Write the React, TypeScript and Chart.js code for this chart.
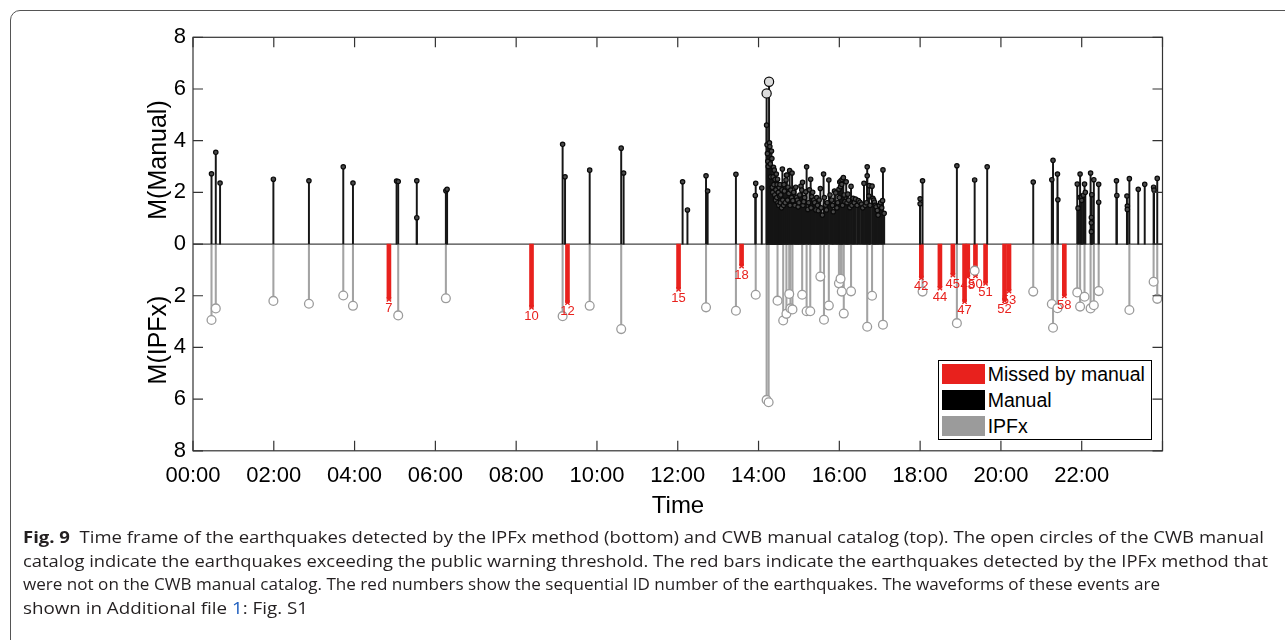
import React, { useEffect, useLayoutEffect, useRef } from 'react';
import { Chart, registerables } from 'chart.js';

Chart.register(...registerables);

// ---------- DATA ----------
const xTickLabels = ['00:00', '02:00', '04:00', '06:00', '08:00', '10:00', '12:00', '14:00', '16:00', '18:00', '20:00', '22:00'];
const yTickLabels = ['8', '6', '4', '2', '0', '2', '4', '6', '8'];

// [time (hours), magnitude] — CWB manual catalog (top)
const manualEvents: [number, number][] = [
  [0.458, 2.72], [0.564, 3.55], [0.67, 2.36], [1.99, 2.51], [2.87, 2.45], [3.72, 2.99], [3.96, 2.36],
  [5.04, 2.44], [5.08, 2.42], [5.54, 2.45], [5.54, 1.02], [6.26, 2.06], [6.29, 2.12],
  [9.15, 3.86], [9.21, 2.6], [9.82, 2.86], [10.6, 3.71], [10.66, 2.75], [12.12, 2.41], [12.24, 1.32],
  [12.7, 2.64], [12.74, 2.05], [13.44, 2.7], [13.92, 1.88], [13.93, 2.35], [14.08, 2.17],
  [14.2, 5.83], [14.26, 6.28], [14.2, 4.6], [14.21, 3.84], [14.22, 3.5], [14.23, 3.2], [14.24, 3.0],
  [14.27, 3.92], [14.28, 3.77], [14.29, 3.1], [14.3, 2.6], [14.32, 3.6], [14.33, 3.31], [14.34, 2.2],
  [14.35, 2.0], [14.36, 2.6], [14.37, 2.97], [14.38, 2.3], [14.39, 2.86], [14.4, 1.9], [14.41, 2.5],
  [14.42, 1.7], [14.43, 2.1], [14.44, 2.71], [14.45, 1.8], [14.46, 2.3], [14.47, 2.51], [14.48, 1.6],
  [14.49, 2.0], [14.5, 1.5], [14.51, 2.19], [14.52, 1.86], [14.53, 2.3], [14.54, 1.6], [14.55, 1.9],
  [14.57, 1.4], [14.58, 2.1], [14.59, 2.9], [14.6, 1.7], [14.62, 1.5], [14.63, 2.3], [14.64, 2.05],
  [14.66, 1.6], [14.68, 2.48], [14.69, 2.66], [14.7, 2.67], [14.72, 1.7], [14.73, 2.2], [14.75, 1.96],
  [14.77, 2.84], [14.78, 1.5], [14.8, 2.09], [14.82, 1.8], [14.83, 2.75], [14.85, 1.68], [14.87, 2.0],
  [14.9, 1.5], [14.92, 2.2], [14.94, 1.81], [14.96, 1.7], [14.98, 1.44], [15.0, 1.6], [15.02, 1.9],
  [15.05, 2.24], [15.07, 2.09], [15.09, 2.39], [15.1, 1.5], [15.12, 1.64], [15.14, 1.8], [15.17, 2.02],
  [15.19, 2.99], [15.22, 1.34], [15.24, 1.6], [15.26, 2.1], [15.29, 2.51], [15.3, 1.4], [15.32, 1.83],
  [15.34, 2.0], [15.37, 1.7], [15.39, 1.6], [15.42, 1.32], [15.44, 1.8], [15.46, 1.5], [15.48, 1.29],
  [15.5, 1.7], [15.53, 2.15], [15.55, 1.4], [15.58, 1.12], [15.61, 2.71], [15.63, 1.8], [15.66, 1.51],
  [15.68, 1.32], [15.7, 1.6], [15.74, 2.48], [15.77, 1.9], [15.81, 1.7], [15.83, 1.5], [15.85, 1.25],
  [15.88, 2.05], [15.91, 1.98], [15.94, 1.4], [15.96, 1.6], [15.99, 2.12], [16.0, 1.8], [16.01, 2.4],
  [16.03, 2.22], [16.04, 2.45], [16.06, 2.31], [16.07, 2.5], [16.08, 1.5], [16.1, 2.57], [16.12, 1.9],
  [16.14, 1.64], [16.17, 2.41], [16.19, 1.6], [16.21, 1.93], [16.23, 1.7], [16.26, 1.41], [16.29, 2.23],
  [16.31, 1.5], [16.34, 1.77], [16.37, 1.6], [16.4, 1.74], [16.44, 1.5], [16.47, 1.68], [16.51, 1.62],
  [16.55, 1.55], [16.58, 1.4], [16.61, 2.35], [16.64, 1.5], [16.67, 1.6], [16.69, 2.99], [16.69, 2.64],
  [16.73, 1.86], [16.74, 2.26], [16.76, 1.5], [16.81, 2.24], [16.83, 1.77], [16.85, 1.7], [16.87, 1.62],
  [16.89, 1.5], [16.91, 1.44], [16.94, 1.3], [16.96, 1.12], [16.99, 1.5], [17.02, 1.6], [17.05, 1.4],
  [17.07, 1.68], [17.08, 2.87], [17.11, 1.19],
  [18.0, 1.75], [18.0, 1.56], [18.06, 2.45], [18.91, 3.03], [19.35, 2.48], [19.66, 2.99], [20.8, 2.4],
  [21.26, 2.49], [21.29, 3.24], [21.4, 2.71], [21.41, 1.71], [21.89, 2.32], [21.91, 1.39], [21.96, 2.71],
  [21.96, 1.81], [22.0, 1.83], [22.0, 1.69], [22.04, 1.89], [22.07, 2.32], [22.09, 2.0], [22.22, 2.75],
  [22.25, 1.91], [22.24, 1.03], [22.24, 0.82], [22.24, 0.48], [22.3, 2.49], [22.42, 2.31], [22.42, 1.62],
  [22.86, 2.45], [22.87, 1.88], [23.12, 1.86], [23.13, 1.47], [23.13, 1.34], [23.18, 2.53], [23.4, 2.12],
  [23.56, 2.31], [23.78, 2.2], [23.79, 2.09], [23.87, 2.54],
];

// [time (hours), magnitude] — IPFx detections (bottom)
const ipfxEvents: [number, number][] = [
  [0.458, 2.94], [0.564, 2.49], [1.99, 2.2], [2.87, 2.31], [3.72, 1.99], [3.96, 2.39], [5.08, 2.76],
  [6.26, 2.1], [9.15, 2.79], [9.82, 2.39], [10.6, 3.29], [12.7, 2.45], [13.44, 2.58], [13.93, 1.96],
  [14.2, 6.03], [14.25, 6.12], [14.47, 2.19], [14.61, 2.96], [14.69, 2.7], [14.76, 1.93], [14.79, 2.49],
  [14.84, 2.53], [15.08, 1.96], [15.19, 2.6], [15.28, 2.6], [15.53, 1.26], [15.62, 2.93], [15.74, 2.38],
  [15.99, 1.52], [16.03, 1.34], [16.06, 1.84], [16.11, 2.69], [16.29, 1.83], [16.69, 3.2], [16.81, 2.0],
  [17.08, 3.12], [18.06, 1.84], [18.91, 3.06], [19.35, 1.03], [20.8, 1.84], [21.26, 2.32], [21.29, 3.24],
  [21.4, 2.48], [21.89, 1.87], [21.96, 2.42], [22.07, 2.04], [22.22, 2.49], [22.3, 2.37], [22.42, 1.82],
  [23.18, 2.55], [23.78, 1.46], [23.87, 2.12],
];

// IPFx events missed by the manual catalog
const missedTime = [4.85, 8.38, 9.27, 12.02, 13.58, 18.03, 18.49, 18.81, 19.1, 19.18, 19.37, 19.62, 20.09, 20.2, 21.57];
const missedMag = [2.14, 2.45, 2.27, 1.75, 0.85, 1.31, 1.71, 1.2, 2.23, 1.27, 1.23, 1.52, 2.19, 1.82, 2.01];
const missedId = [7, 10, 12, 15, 18, 42, 44, 45, 47, 48, 50, 51, 52, 53, 58];

const legendItems = [
  { label: 'Missed by manual', color: '#e8211d' },
  { label: 'Manual', color: '#000000' },
  { label: 'IPFx', color: '#9b9b9b' },
];

// ---------- STYLE ----------
const RED = '#e8211d';
const FONT = '"Liberation Sans", Arial, sans-serif';

const captionLines = [
  { bold: 'Fig. 9', text: '  Time frame of the earthquakes detected by the IPFx method (bottom) and CWB manual catalog (top). The open circles of the CWB manual', width: 1241 },
  { bold: '', text: 'catalog indicate the earthquakes exceeding the public warning threshold. The red bars indicate the earthquakes detected by the IPFx method that', width: 1245 },
  { bold: '', text: 'were not on the CWB manual catalog. The red numbers show the sequential ID number of the earthquakes. The waveforms of these events are', width: 1137 },
];

const axesBoxPlugin = {
  id: 'axesBox',
  beforeDatasetsDraw(chart: any) {
    const { ctx, chartArea, scales } = chart;
    const y0 = scales.y.getPixelForValue(0);
    ctx.save();
    ctx.strokeStyle = '#444';
    ctx.lineWidth = 1.3;
    ctx.beginPath();
    ctx.moveTo(chartArea.left, y0);
    ctx.lineTo(chartArea.right, y0);
    ctx.stroke();
    ctx.restore();
  },
  afterDatasetsDraw(chart: any) {
    const { ctx, scales } = chart;
    ctx.save();
    ctx.fillStyle = RED;
    ctx.font = `13px ${FONT}`;
    ctx.textAlign = 'center';
    ctx.textBaseline = 'middle';
    missedId.forEach((id, i) => {
      ctx.fillText(String(id), scales.x.getPixelForValue(missedTime[i]), scales.y.getPixelForValue(-missedMag[i]) + 9);
    });
    ctx.restore();
  },
  afterDraw(chart: any) {
    const { ctx, chartArea, scales } = chart;
    const { left, right, top, bottom } = chartArea;
    ctx.save();
    ctx.strokeStyle = '#333';
    ctx.lineWidth = 1.2;
    ctx.strokeRect(left, top, right - left, bottom - top);
    ctx.beginPath();
    scales.y.ticks.forEach((t: any) => {
      const py = scales.y.getPixelForValue(t.value);
      ctx.moveTo(left, py); ctx.lineTo(left + 10, py);
      ctx.moveTo(right, py); ctx.lineTo(right - 10, py);
    });
    scales.x.ticks.forEach((t: any) => {
      const px = scales.x.getPixelForValue(t.value);
      ctx.moveTo(px, top); ctx.lineTo(px, top + 10);
      ctx.moveTo(px, bottom); ctx.lineTo(px, bottom - 10);
    });
    ctx.stroke();
    ctx.restore();
  },
};

function ChartCanvas() {
  const ref = useRef<HTMLCanvasElement | null>(null);
  useEffect(() => {
    if (!ref.current) return;
    const manualPts = manualEvents.map(([t, m]) => ({ x: t, y: m }));
    const ipfxPts = ipfxEvents.map(([t, m]) => ({ x: t, y: -m }));
    const missedPts = missedTime.map((t, i) => ({ x: t, y: -missedMag[i] }));
    const chart = new Chart(ref.current, {
      type: 'bar',
      data: {
        datasets: [
          {
            type: 'scatter', label: 'Manual markers', data: manualPts, order: 0,
            pointRadius: (c: any) => (c.raw && c.raw.y >= 5 ? 4.6 : 2.2),
            pointBackgroundColor: (c: any) => (c.raw && c.raw.y >= 5 ? '#dcdcdc' : '#4a4a4a'),
            pointBorderColor: '#0a0a0a', pointBorderWidth: 1.2, showLine: false,
          } as any,
          {
            type: 'scatter', label: 'IPFx markers', data: ipfxPts, order: 1,
            pointRadius: 4.4, pointBackgroundColor: '#ffffff', pointBorderColor: '#9b9b9b', pointBorderWidth: 1.3, showLine: false,
          } as any,
          {
            type: 'scatter', label: 'Missed markers', data: missedPts, order: 1,
            pointStyle: 'crossRot', pointRadius: 3, pointBorderColor: RED, pointBorderWidth: 1.4, showLine: false,
          } as any,
          {
            type: 'bar', label: 'Manual', data: manualPts, order: 3,
            backgroundColor: '#161616', barThickness: 1.3, grouped: false,
          } as any,
          {
            type: 'bar', label: 'Missed by manual', data: missedPts, order: 4,
            backgroundColor: RED, barThickness: 4, grouped: false,
          } as any,
          {
            type: 'bar', label: 'IPFx', data: ipfxPts, order: 5,
            backgroundColor: '#a3a3a3', barThickness: 1.4, grouped: false,
          } as any,
        ],
      },
      options: {
        responsive: false,
        animation: false,
        devicePixelRatio: 1,
        layout: { padding: { left: 143, right: 122.5, top: 37.3, bottom: 129.2 } },
        plugins: { legend: { display: false }, tooltip: { enabled: false } },
        scales: {
          x: {
            type: 'linear', min: 0, max: 24, offset: false,
            grid: { display: false, drawTicks: false },
            border: { display: false },
            ticks: {
              stepSize: 2, padding: 12, color: '#000', font: { family: FONT, size: 22 },
              maxRotation: 0, autoSkip: false,
              callback: (v: any) => xTickLabels[Math.round(Number(v) / 2)] ?? '',
            },
            afterFit: (s: any) => { s.height = 60; },
          },
          y: {
            type: 'linear', min: -8, max: 8,
            grid: { display: false, drawTicks: false },
            border: { display: false },
            ticks: {
              stepSize: 2, padding: 7, color: '#000', font: { family: FONT, size: 22 },
              callback: (v: any) => yTickLabels[Math.round((Number(v) + 8) / 2)] ?? '',
            },
            afterFit: (s: any) => { s.width = 50; },
          },
        },
      } as any,
      plugins: [axesBoxPlugin],
    });
    return () => chart.destroy();
  }, []);
  return <canvas ref={ref} width={1285} height={640} style={{ position: 'absolute', left: 0, top: 0, width: 1285, height: 640 }} />;
}

function CaptionLine({ width, top, children }: { width: number; top: number; children: React.ReactNode }) {
  const ref = useRef<HTMLSpanElement | null>(null);
  useLayoutEffect(() => {
    const fit = () => {
      const el = ref.current;
      if (!el) return;
      el.style.transform = 'none';
      const w = el.getBoundingClientRect().width;
      if (w > 0) el.style.transform = `scaleX(${width / w})`;
    };
    fit();
    if ((document as any).fonts && (document as any).fonts.ready) (document as any).fonts.ready.then(fit);
  }, [width]);
  return (
    <span
      ref={ref}
      style={{
        position: 'absolute', left: 23, top, whiteSpace: 'pre', display: 'inline-block',
        transformOrigin: 'left center', font: '16px "Open Sans", sans-serif', color: '#231f20', lineHeight: '22px',
      }}
    >
      {children}
    </span>
  );
}

export default function App() {
  return (
    <div style={{ position: 'absolute', left: 0, top: 0, width: 1285, height: 640, overflow: 'hidden', background: '#fff' }}>
      <div style={{ position: 'absolute', left: 10, top: 10, width: 1320, height: 700, border: '1.5px solid #555', borderRadius: 10, boxSizing: 'border-box' }} />
      <ChartCanvas />
      <div style={{ position: 'absolute', left: 157, top: 160, transform: 'translate(-50%, -50%) rotate(-90deg)', whiteSpace: 'nowrap', font: `25px ${FONT}`, color: '#000' }}>M(Manual)</div>
      <div style={{ position: 'absolute', left: 157, top: 340, transform: 'translate(-50%, -50%) rotate(-90deg)', whiteSpace: 'nowrap', font: `25px ${FONT}`, color: '#000' }}>M(IPFx)</div>
      <div style={{ position: 'absolute', left: 678, top: 505, transform: 'translate(-50%, -50%)', whiteSpace: 'nowrap', font: `24px ${FONT}`, color: '#000' }}>Time</div>
      <div style={{ position: 'absolute', left: 937.7, top: 360, width: 214.6, height: 80, border: '1px solid #000', background: '#fff', boxSizing: 'border-box' }}>
        {legendItems.map((it, i) => (
          <div key={it.label} style={{ position: 'absolute', left: 3, top: 3 + i * 25.8, height: 20, display: 'flex', alignItems: 'center' }}>
            <div style={{ width: 43, height: 20, background: it.color }} />
            <div style={{ marginLeft: 3, font: `19.5px ${FONT}`, color: '#000', whiteSpace: 'nowrap', lineHeight: '20px' }}>{it.label}</div>
          </div>
        ))}
      </div>
      {captionLines.map((l, i) => (
        <CaptionLine key={i} width={l.width} top={526 + i * 23.5}>
          {l.bold ? <b style={{ fontWeight: 700 }}>{l.bold}</b> : null}
          {l.text}
        </CaptionLine>
      ))}
      <CaptionLine width={285} top={526 + 3 * 23.5}>
        shown in Additional file <span style={{ color: '#1f5fbf' }}>1</span>: Fig. S1
      </CaptionLine>
    </div>
  );
}
